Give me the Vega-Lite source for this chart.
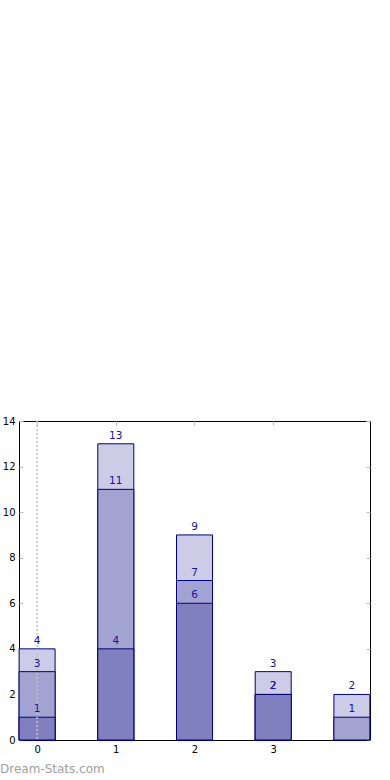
{
  "$schema": "https://vega.github.io/schema/vega-lite/v6.json",
  "width": 351,
  "height": 319,
  "autosize": "none",
  "padding": {"left": 19, "top": 421, "right": 20, "bottom": 40},
  "config": {
    "view": {"stroke": "#000000", "strokeWidth": 1},
    "font": "DejaVu Sans",
    "axis": {
      "grid": false,
      "domain": false,
      "tickColor": "#bbbbbb",
      "tickSize": -4,
      "tickWidth": 1,
      "labelFont": "DejaVu Sans",
      "labelFontSize": 10,
      "labelColor": "#000000",
      "labelPadding": 8,
      "title": null
    }
  },
  "title": {
    "text": "Dream-Stats.com",
    "orient": "bottom",
    "anchor": "start",
    "frame": "group",
    "dx": -19,
    "offset": 10,
    "fontSize": 12,
    "font": "DejaVu Sans",
    "fontWeight": "normal",
    "color": "#a0a0a0"
  },
  "data": {
    "values": [
      {"x": 0, "layer": "top", "value": 4},
      {"x": 0, "layer": "mid", "value": 3},
      {"x": 0, "layer": "base", "value": 1},
      {"x": 1, "layer": "top", "value": 13},
      {"x": 1, "layer": "mid", "value": 11},
      {"x": 1, "layer": "base", "value": 4},
      {"x": 2, "layer": "top", "value": 9},
      {"x": 2, "layer": "mid", "value": 7},
      {"x": 2, "layer": "base", "value": 6},
      {"x": 3, "layer": "top", "value": 3},
      {"x": 3, "layer": "mid", "value": 2},
      {"x": 3, "layer": "base", "value": 2},
      {"x": 4, "layer": "top", "value": 2},
      {"x": 4, "layer": "mid", "value": 1}
    ]
  },
  "resolve": {"axis": {"x": "independent", "y": "independent"}},
  "layer": [
    {
      "mark": {"type": "bar", "size": 36, "stroke": "#000080", "strokeWidth": 1, "opacity": 1},
      "encoding": {
        "x": {
          "field": "x", "type": "quantitative",
          "scale": {"domain": [-0.23, 4.23], "nice": false, "zero": false, "padding": 0},
          "axis": {"orient": "bottom", "values": [0, 1, 2, 3], "format": "d"}
        },
        "y": {
          "field": "value", "type": "quantitative", "stack": null,
          "scale": {"domain": [0, 14], "nice": false, "padding": 0},
          "axis": {"orient": "left", "values": [0, 2, 4, 6, 8, 10, 12, 14], "format": "d"}
        },
        "color": {
          "field": "layer", "type": "nominal",
          "scale": {"domain": ["top", "mid", "base"], "range": ["#cccce6", "#a3a3d1", "#8080bf"]},
          "legend": null
        }
      }
    },
    {
      "data": {"values": [{"x": 0}]},
      "mark": {"type": "rule", "color": "#c4c4c4", "strokeDash": [2, 2], "strokeWidth": 1.5},
      "encoding": {
        "x": {"field": "x", "type": "quantitative", "axis": null}
      }
    },
    {
      "mark": {"type": "text", "baseline": "bottom", "dy": -3, "fontSize": 10.5, "color": "#14149c", "font": "DejaVu Sans"},
      "encoding": {
        "x": {
          "field": "x", "type": "quantitative",
          "axis": {"orient": "top", "values": [0, 1, 2, 3], "labels": false}
        },
        "y": {
          "field": "value", "type": "quantitative",
          "axis": {"orient": "right", "values": [0, 2, 4, 6, 8, 10, 12, 14], "labels": false}
        },
        "text": {"field": "value", "type": "quantitative"}
      }
    }
  ]
}
